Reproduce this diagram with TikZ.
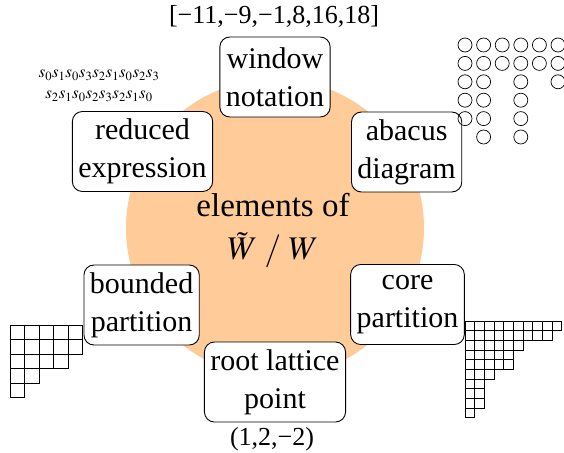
\documentclass[tikz,border=0pt]{standalone}
\usepackage{mathptmx}
\usepackage{fontspec}
\setmainfont{Liberation Serif}
\definecolor{peach}{RGB}{255,204,153}
\begin{document}
\begin{tikzpicture}[x=1pt,y=1pt,font=\fontsize{30}{38}\selectfont,
                        view/.style={draw,rounded corners=10pt,fill=white,align=center,inner xsep=6pt,minimum height=80pt,line width=0.9pt},
                        cell/.style={line width=0.7pt},
                        bead/.style={line width=0.7pt}]
                        \useasboundingbox (-275,-224) rectangle (289,228);
                        \fill[peach] (0,0) circle (149);
                        \node[align=center,font=\fontsize{33}{43}\selectfont] (elem) at (-2,-3) {elements of\\$\tilde{W}\;/\;W$};

                        \node[view] (window) at (90:151) {window\\notation};
                        \node[view] (abacus) at (30:152) {abacus\\diagram};
                        \node[view] (core) at (-30:153) {core\\partition};
                        \node[view] (root) at (-90:154) {root lattice\\point};
                        \node[view] (bounded) at (210:154) {bounded\\partition};
                        \node[view] (reduced) at (150:153) {reduced\\expression};

                        \node[font=\fontsize{26}{30}\selectfont] (winlbl) at (-1,212) {[−11,−9,−1,8,16,18]};
                        \node[font=\fontsize{26}{30}\selectfont] (rootlbl) at (-3,-211) {(1,2,−2)};
                        \node[align=center,font=\fontsize{17}{21}\selectfont] (words) at (-176,142) {$s_0s_1s_0s_3s_2s_1s_0s_2s_3$\\$s_2s_1s_0s_2s_3s_2s_1s_0$};

                        % abacus beads
                        \foreach \h [count=\col] in {5,6,2,6,2,3}
                            \foreach \row in {1,...,\h}
                                \draw[bead] ({190+(\col-1)*18.6},{183-(\row-1)*18.4}) circle (7);

                        % bounded partition
                        \foreach \len [count=\row] in {5,5,4,2,1}
                            \foreach \k in {1,...,\len}
                                \draw[cell] ({-265+(\k-1)*14.5},{-97-(\row-1)*14.5}) rectangle +(14.5,-14.5);

                        % core partition
                        \foreach \len [count=\row] in {10,9,6,5,5,3,2,2,2,1}
                            \foreach \k in {1,...,\len}
                                \draw[cell] ({190+(\k-1)*9.65},{-93-(\row-1)*9.65}) rectangle +(9.65,-9.65);
                    \end{tikzpicture}
\end{document}
